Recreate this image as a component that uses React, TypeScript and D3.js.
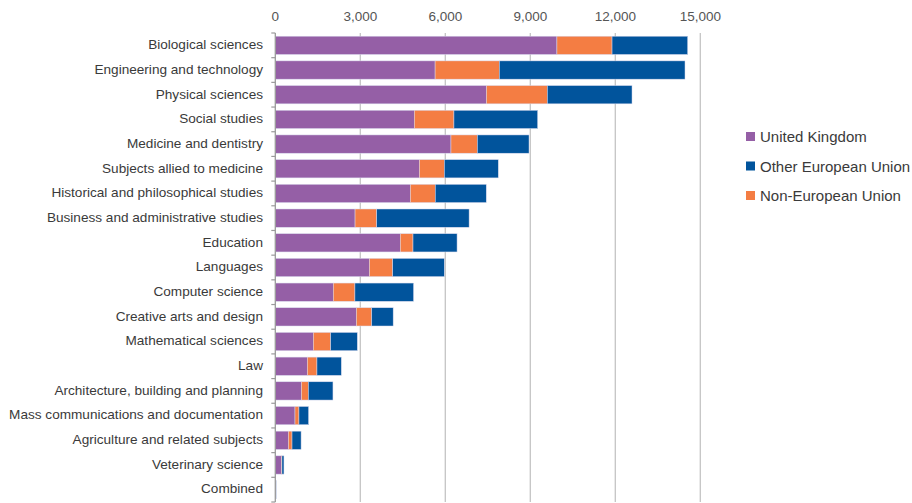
import React from "react";
import * as d3 from "d3";

const categories = [
  "Biological sciences",
  "Engineering and technology",
  "Physical sciences",
  "Social studies",
  "Medicine and dentistry",
  "Subjects allied to medicine",
  "Historical and philosophical studies",
  "Business and administrative studies",
  "Education",
  "Languages",
  "Computer science",
  "Creative arts and design",
  "Mathematical sciences",
  "Law",
  "Architecture, building and planning",
  "Mass communications and documentation",
  "Agriculture and related subjects",
  "Veterinary science",
  "Combined",
];

const unitedKingdom = [9940, 5640, 7450, 4905, 6200, 5085, 4765, 2815, 4410, 3320, 2045, 2860, 1340, 1130, 920, 695, 460, 210, 15];
const nonEuropeanUnion = [1945, 2265, 2150, 1400, 930, 880, 880, 765, 450, 825, 765, 545, 615, 340, 245, 140, 130, 25, 5];
const otherEuropeanUnion = [2670, 6555, 2990, 2955, 1825, 1905, 1800, 3260, 1555, 1820, 2070, 755, 940, 860, 870, 340, 320, 70, 10];

const xTicks = [0, 3000, 6000, 9000, 12000, 15000];

const legendItems = [
  { name: "United Kingdom", color: "#955fa6" },
  { name: "Other European Union", color: "#01549c" },
  { name: "Non-European Union", color: "#f47d43" },
];

const seriesKeys = ["uk", "nonEu", "otherEu"];
const seriesColors: Record<string, string> = {
  uk: "#955fa6",
  nonEu: "#f47d43",
  otherEu: "#01549c",
};

export default function App() {
  const width = 912;
  const height = 503;
  const x0 = 275.3;
  const x = d3.scaleLinear().domain([0, 15000]).range([x0, x0 + 425]);
  const y = d3.scaleBand().domain(categories).range([33, 502]).paddingInner(0.26).paddingOuter(0.13);

  const rows = categories.map((c, i) => ({
    cat: c,
    uk: unitedKingdom[i],
    nonEu: nonEuropeanUnion[i],
    otherEu: otherEuropeanUnion[i],
  }));
  const stack = d3.stack<any>().keys(seriesKeys)(rows);
  const step = y.step();
  const font = "'Liberation Sans', Arial, sans-serif";

  return (
    <svg width={width} height={height} style={{ position: "absolute", left: 0, top: 0 }}>
      <rect width={width} height={height} fill="#fff" />
      {xTicks.map((t) => (
        <g key={t}>
          {t > 0 && (
            <line x1={x(t)} x2={x(t)} y1={33} y2={502} stroke="#c4c4c4" strokeWidth={1.3} />
          )}
          <text x={x(t)} y={21} textAnchor="middle" fontSize={13.5} fill="#555" fontFamily={font}>
            {d3.format(",")(t)}
          </text>
        </g>
      ))}
      {stack.map((s) => (
        <g key={s.key}>
          {s.map((d, i) => (
            <rect
              key={i}
              x={x(d[0])}
              y={y(categories[i])}
              width={Math.max(0, x(d[1]) - x(d[0]))}
              height={y.bandwidth()}
              fill={seriesColors[s.key]}
              stroke="#d9d9ee"
              strokeWidth={0.5}
            />
          ))}
        </g>
      ))}
      <line x1={x0} x2={x0} y1={33} y2={502} stroke="#9a9a9a" strokeWidth={1.3} />
      {d3.range(categories.length + 1).map((i) => (
        <line key={i} x1={x0 - 4} x2={x0} y1={33 + i * step} y2={33 + i * step} stroke="#9a9a9a" strokeWidth={1.2} />
      ))}
      {categories.map((c) => (
        <text
          key={c}
          x={263}
          y={(y(c) as number) + y.bandwidth() / 2 + 3.8}
          textAnchor="end"
          fontSize={13.6}
          fill="#3a3a3a"
          fontFamily={font}
        >
          {c}
        </text>
      ))}
      {legendItems.map((l, i) => (
        <g key={l.name} transform={`translate(746, ${137 + i * 29.5})`}>
          <rect x={0} y={-5} width={9} height={9} fill={l.color} />
          <text x={14} y={5.2} fontSize={15} fill="#3a3a3a" fontFamily={font}>
            {l.name}
          </text>
        </g>
      ))}
    </svg>
  );
}
